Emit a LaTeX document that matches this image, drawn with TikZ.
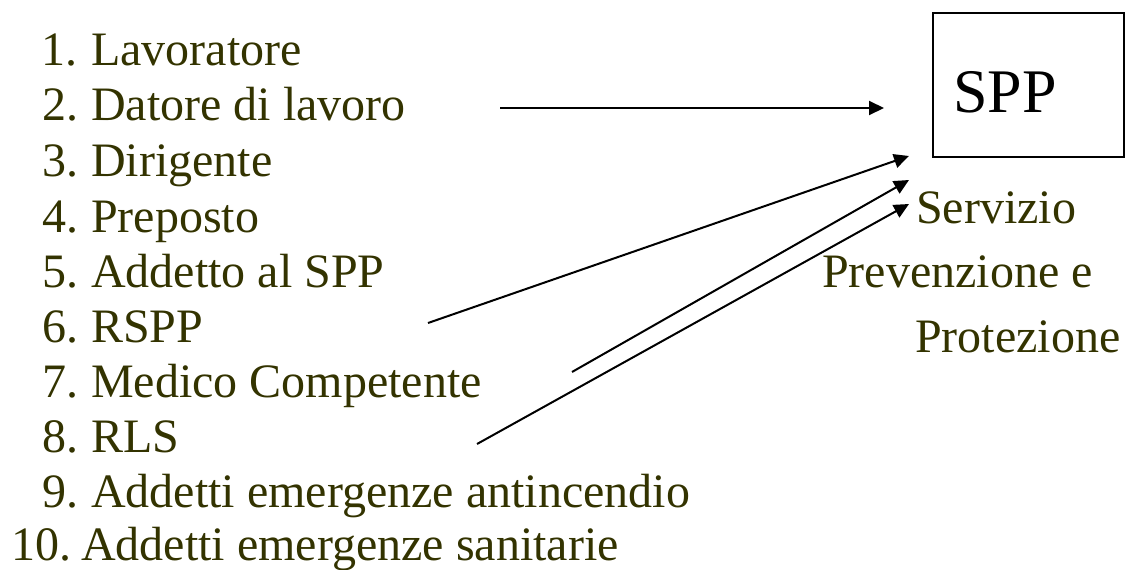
\documentclass[tikz,border=0pt]{standalone}
\usepackage{fontspec}
\setmainfont{Liberation Serif}
\newfontfamily\timesfont{Liberation Serif}
\usetikzlibrary{arrows.meta}
\definecolor{olivetext}{RGB}{51,51,0}
\begin{document}
\begin{tikzpicture}[x=1pt,y=-1pt,
  item/.style={anchor=base west,inner sep=0pt,text=olivetext,font=\timesfont\fontsize{48}{55}\selectfont},
  conn/.style={line width=2pt,-{Triangle[length=15pt,width=14pt]}},
  sppbox/.style={draw,line width=1.5pt,fill=white}]
\useasboundingbox (0,0) rectangle (1128,570);
% list numbers
\node[item] (n1) at (41,65) {1.};
\node[item] (n2) at (42,120) {2.};
\node[item] (n3) at (42,176) {3.};
\node[item] (n4) at (42,232) {4.};
\node[item] (n5) at (42,287) {5.};
\node[item] (n6) at (42,342) {6.};
\node[item] (n7) at (42,397) {7.};
\node[item] (n8) at (42,452) {8.};
\node[item] (n9) at (42,507) {9.};
\node[item] (n10) at (11,560) {10.};
% list texts
\node[item] (t1) at (91,65) {Lavoratore};
\node[item] (t2) at (91,120) {Datore di lavoro};
\node[item] (t3) at (91,176) {Dirigente};
\node[item] (t4) at (91,232) {Preposto};
\node[item] (t5) at (91,287) {Addetto al SPP};
\node[item] (t6) at (91,342) {RSPP};
\node[item] (t7) at (91,397) {Medico Competente};
\node[item] (t8) at (91,452) {RLS};
\node[item] (t9) at (91,507) {Addetti emergenze antincendio};
\node[item] (t10) at (81,560) {Addetti emergenze sanitarie};
% SPP box
\node[sppbox,minimum width=191pt,minimum height=144pt,anchor=north west,inner sep=0pt] (box) at (932,12) {};
\node[anchor=base west,inner sep=0pt,font=\timesfont\fontsize{62}{70}\selectfont] (spp) at (953,112) {SPP};
% right labels
\node[item] (r1) at (916,223) {Servizio};
\node[item] (r2) at (822,287) {Prevenzione e};
\node[item] (r3) at (915,352) {Protezione};
% connectors
\coordinate (a1s) at (500,108);
\coordinate (a1e) at (884,108);
\coordinate (a2s) at (428,323);
\coordinate (a2e) at (909,156);
\coordinate (a3s) at (572,372);
\coordinate (a3e) at (909,180);
\coordinate (a4s) at (477,444);
\coordinate (a4e) at (909,204);
\draw[conn] (a1s) -- (a1e);
\draw[conn] (a2s) -- (a2e);
\draw[conn] (a3s) -- (a3e);
\draw[conn] (a4s) -- (a4e);
\end{tikzpicture}
\end{document}
